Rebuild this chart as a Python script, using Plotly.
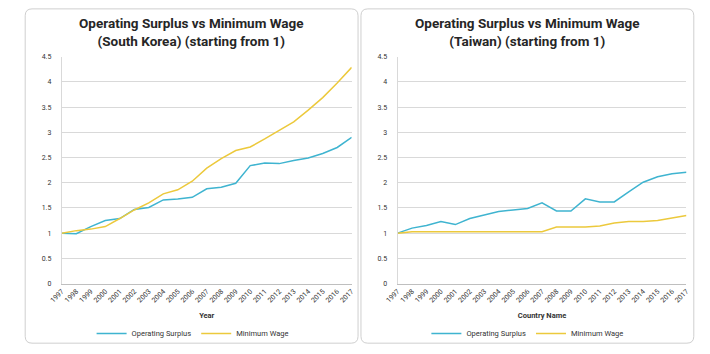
import plotly.graph_objects as go

years = ["1997", "1998", "1999", "2000", "2001", "2002", "2003", "2004", "2005", "2006",
         "2007", "2008", "2009", "2010", "2011", "2012", "2013", "2014", "2015", "2016", "2017"]

kr_surplus = [1.00, 0.99, 1.13, 1.25, 1.29, 1.47, 1.51, 1.66, 1.68, 1.71,
              1.88, 1.91, 1.99, 2.34, 2.39, 2.38, 2.44, 2.49, 2.58, 2.70, 2.90]
kr_wage = [1.00, 1.05, 1.08, 1.13, 1.29, 1.46, 1.60, 1.78, 1.86, 2.03,
           2.29, 2.48, 2.64, 2.71, 2.87, 3.04, 3.21, 3.44, 3.69, 3.98, 4.29]

tw_surplus = [1.00, 1.10, 1.15, 1.23, 1.17, 1.29, 1.36, 1.43, 1.46, 1.49,
              1.60, 1.44, 1.44, 1.68, 1.62, 1.62, 1.82, 2.01, 2.12, 2.18, 2.21]
tw_wage = [1.00, 1.03, 1.03, 1.03, 1.03, 1.03, 1.03, 1.03, 1.03, 1.03,
           1.03, 1.12, 1.12, 1.12, 1.14, 1.20, 1.23, 1.23, 1.25, 1.30, 1.35]

titles = ["Operating Surplus vs Minimum Wage<br>(South Korea) (starting from 1)",
          "Operating Surplus vs Minimum Wage<br>(Taiwan) (starting from 1)"]
x_titles = ["Year", "Country Name"]
series_names = ["Operating Surplus", "Minimum Wage"]
y_ticks = [0, 0.5, 1, 1.5, 2, 2.5, 3, 3.5, 4, 4.5]
y_ticktext = ["0", "0.5", "1", "1.5", "2", "2.5", "3", "3.5", "4", "4.5"]

BLUE = "#3fb4d0"
YELLOW = "#ecc93c"
W, H = 710, 354

def px(x):
    return x / W

def py(y):
    return 1 - y / H

fig = go.Figure()

panels = [(kr_surplus, kr_wage, "x", "y", "legend"),
          (tw_surplus, tw_wage, "x2", "y2", "legend2")]
for surplus, wage, xa, ya, lg in panels:
    fig.add_trace(go.Scatter(x=years, y=surplus, mode="lines", name=series_names[0],
                             line=dict(color=BLUE, width=1.5), xaxis=xa, yaxis=ya, legend=lg))
    fig.add_trace(go.Scatter(x=years, y=wage, mode="lines", name=series_names[1],
                             line=dict(color=YELLOW, width=1.5), xaxis=xa, yaxis=ya, legend=lg))

font_main = "Roboto"
tick_font = dict(family=font_main, size=7, color="#333333")

def xaxis_cfg(domain, anchor, title):
    return dict(domain=domain, anchor=anchor, type="category", tickangle=-45,
                showgrid=False, showline=True, linecolor="#bfbfbf", linewidth=1,
                ticks="", tickfont=tick_font, zeroline=False,
                title=dict(text="<b>" + title + "</b>", font=dict(family=font_main, size=7.5, color="#333333"),
                           standoff=9))

def yaxis_cfg(domain, anchor):
    return dict(domain=domain, anchor=anchor, range=[0, 4.5], tickvals=y_ticks, ticktext=y_ticktext,
                showgrid=True, gridcolor="#d9d9d9", gridwidth=1, showline=True, linecolor="#d9d9d9",
                zeroline=False, ticks="", tickfont=tick_font, ticklabelstandoff=8)

ydom = [py(286), py(54)]
fig.update_layout(
    width=W, height=H,
    margin=dict(l=0, r=0, t=0, b=0),
    paper_bgcolor="white", plot_bgcolor="white",
    xaxis=xaxis_cfg([px(50), px(347)], "y", x_titles[0]),
    yaxis=yaxis_cfg(ydom, "x"),
    xaxis2=xaxis_cfg([px(394), px(690)], "y2", x_titles[1]),
    yaxis2=yaxis_cfg(ydom, "x2"),
    legend=dict(orientation="h", x=px(184), y=py(337), xanchor="center", yanchor="middle",
                font=dict(family=font_main, size=7.5, color="#333333"), itemwidth=30,
                tracegroupgap=0, bgcolor="rgba(0,0,0,0)"),
    legend2=dict(orientation="h", x=px(527), y=py(337), xanchor="center", yanchor="middle",
                 font=dict(family=font_main, size=7.5, color="#333333"), itemwidth=30,
                 tracegroupgap=0, bgcolor="rgba(0,0,0,0)"),
    showlegend=True,
)

# card outlines
def card(x0, y0, x1, y1, r=7):
    X0, X1 = px(x0), px(x1)
    Y0, Y1 = py(y0), py(y1)
    rx, ry = r / W, r / H
    path = (f"M {X0+rx},{Y0} L {X1-rx},{Y0} Q {X1},{Y0} {X1},{Y0-ry} "
            f"L {X1},{Y1+ry} Q {X1},{Y1} {X1-rx},{Y1} L {X0+rx},{Y1} Q {X0},{Y1} {X0},{Y1+ry} "
            f"L {X0},{Y0-ry} Q {X0},{Y0} {X0+rx},{Y0} Z")
    return dict(type="path", path=path, xref="paper", yref="paper",
                line=dict(color="#cfcfcf", width=1), fillcolor="rgba(0,0,0,0)", layer="below")

fig.add_shape(**card(12.5, 5, 353.5, 347))
fig.add_shape(**card(356.5, 5, 697.5, 347))

for cx, t in [(183, titles[0]), (527, titles[1])]:
    fig.add_annotation(text="<b>" + t + "</b>", x=px(cx), y=py(28.5), xref="paper", yref="paper",
                       xanchor="center", yanchor="middle", showarrow=False,
                       font=dict(family=font_main, size=13.5, color="#262626"))

fig.write_html("out.html")
